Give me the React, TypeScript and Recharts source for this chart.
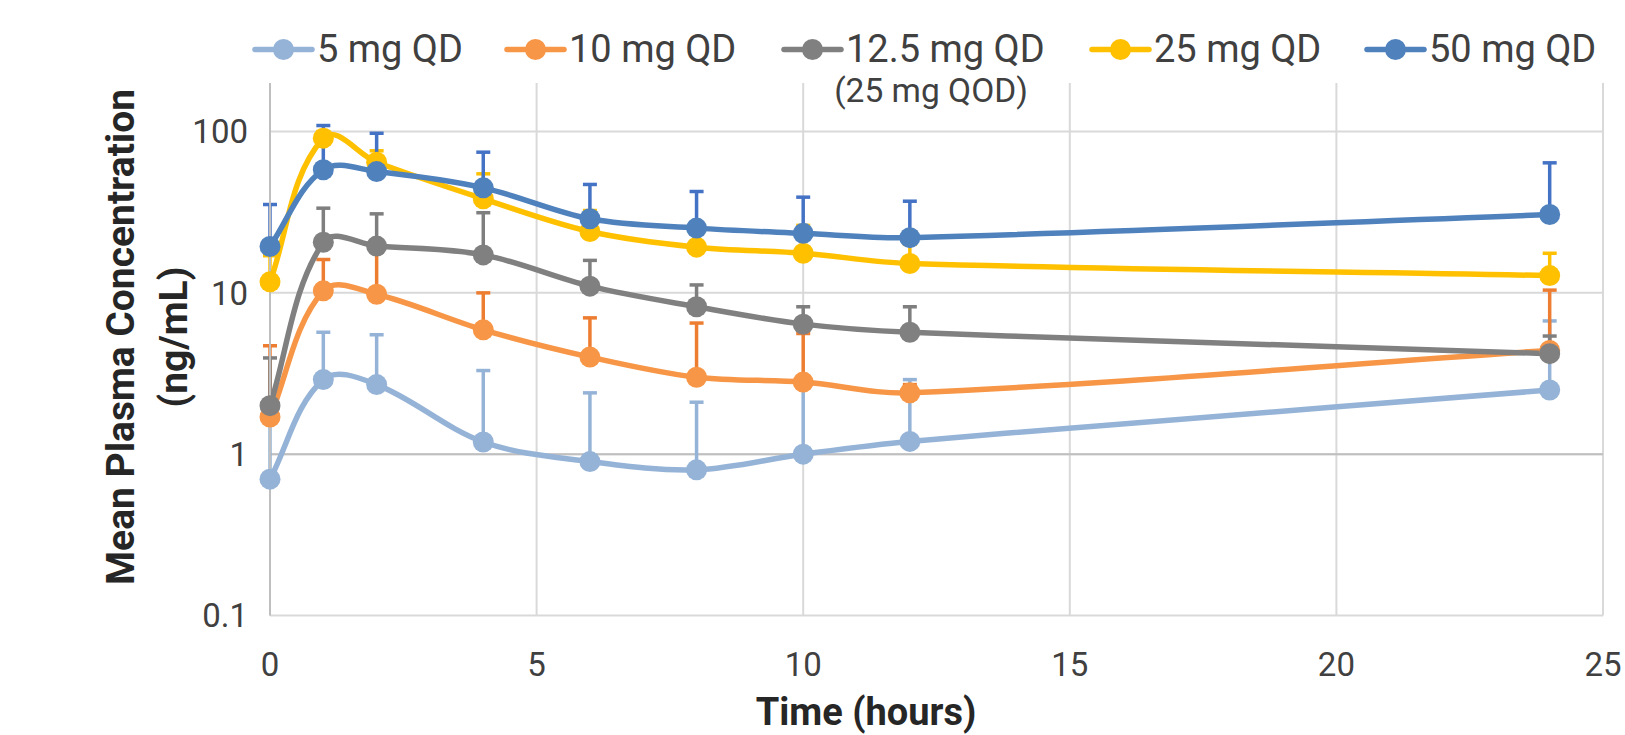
import { LineChart, Line, XAxis, YAxis, CartesianGrid, ErrorBar, ReferenceLine } from "recharts"

// sampling times (hours)
const times = [0, 1, 2, 4, 6, 8, 10, 12, 24]

const seriesNames = ['5 mg QD', '10 mg QD', '12.5 mg QD', '25 mg QD', '50 mg QD']
const lineColors = ['#95B3D7', '#F79646', '#808080', '#FFC000', '#4F81BD']
const errColors = ['#95B3D7', '#ED7D31', '#7F7F7F', '#FFC000', '#4472C4']

// mean concentration (ng/mL) and top of the SD bar
const mean5 = [0.70, 2.90, 2.70, 1.19, 0.90, 0.80, 1.00, 1.20, 2.50]
const upper5 = [1.8, 5.7, 5.5, 3.3, 2.4, 2.1, 2.7, 2.9, 6.7]
const mean10 = [1.70, 10.3, 9.8, 5.9, 4.0, 3.0, 2.8, 2.4, 4.4]
const upper10 = [4.7, 16.1, 18.5, 10.0, 7.0, 6.5, 5.6, 2.7, 10.4]
const mean12 = [2.0, 20.6, 19.5, 17.2, 11.0, 8.2, 6.4, 5.7, 4.2]
const upper12 = [3.95, 33.5, 30.9, 31.4, 15.9, 11.2, 8.2, 8.2, 5.4]
const mean25 = [11.7, 91, 64.5, 38.3, 24.0, 19.2, 17.6, 15.2, 12.8]
const upper25 = [17, 100, 76, 54.7, 32.4, 25, 26.2, 20, 17.6]
const mean50 = [19.4, 58, 56.5, 44.8, 28.8, 25.2, 23.4, 22.0, 30.6]
const upper50 = [35.3, 109, 97.6, 74.5, 47, 42.5, 39.2, 37.0, 64]

const xTicks = [0, 5, 10, 15, 20, 25]
const yTicks = [0.1, 1, 10, 100]

const means = [mean5, mean10, mean12, mean25, mean50]
const uppers = [upper5, upper10, upper12, upper25, upper50]

const data = times.map((t, i) => {
  const row: any = { t }
  means.forEach((m, k) => {
    row[`s${k}`] = m[i]
    row[`e${k}`] = [0, uppers[k][i] - m[i]]
  })
  return row
})

// Excel-like smoothing: bezier handles along the neighbour direction,
// scaled to the length of each segment so uneven spacing doesn't kink
function excelSmooth(context: any) {
  let pts: number[][] = []
  const dist = (a: number[], b: number[]) => Math.hypot(b[0] - a[0], b[1] - a[1]) || 1
  return {
    areaStart() {},
    areaEnd() {},
    lineStart() { pts = [] },
    point(x: number, y: number) { pts.push([+x, +y]) },
    lineEnd() {
      const n = pts.length
      if (!n) return
      context.moveTo(pts[0][0], pts[0][1])
      for (let i = 0; i < n - 1; i++) {
        const p0 = pts[Math.max(i - 1, 0)]
        const p1 = pts[i]
        const p2 = pts[i + 1]
        const p3 = pts[Math.min(i + 2, n - 1)]
        const seg = dist(p1, p2)
        const k1 = seg / dist(p0, p2) / 3
        const k2 = seg / dist(p1, p3) / 3
        context.bezierCurveTo(
          p1[0] + (p2[0] - p0[0]) * k1, p1[1] + (p2[1] - p0[1]) * k1,
          p2[0] - (p3[0] - p1[0]) * k2, p2[1] - (p3[1] - p1[1]) * k2,
          p2[0], p2[1]
        )
      }
    },
  }
}

const legendX = [317, 569, 846, 1154, 1429]
const font = 'Roboto, "Open Sans", sans-serif'

export default function App() {
  return (
    <div style={{ position: 'relative', width: 1625, height: 735, background: '#fff' }}>
      <style>{'body{margin:0}'}</style>
      <LineChart width={1625} height={735} data={data} margin={{ top: 83, right: 22, bottom: 0, left: 0 }}>
        <CartesianGrid stroke="#D9D9D9" strokeWidth={2} horizontalValues={yTicks} verticalValues={xTicks} />
        <XAxis
          dataKey="t" type="number" domain={[0, 25]} ticks={xTicks} height={119.5}
          axisLine={false} tickLine={false} tickSize={0} tickMargin={37}
          tick={{ fontSize: 33, fill: '#404040', fontFamily: font }}
        />
        <YAxis
          type="number" scale="log" domain={[0.1, 200]} allowDataOverflow ticks={yTicks} width={270}
          axisLine={{ stroke: '#BFBFBF', strokeWidth: 2 }} tickLine={false} tickSize={0} tickMargin={22}
          tick={{ fontSize: 33, fill: '#404040', fontFamily: font }}
        />
        <ReferenceLine y={1} stroke="#BFBFBF" strokeWidth={2} />
        {seriesNames.map((name, k) => (
          <Line
            key={name} name={name} dataKey={`s${k}`} type={excelSmooth as any}
            stroke={lineColors[k]} strokeWidth={5.5}
            dot={{ r: 10.5, fill: lineColors[k], stroke: lineColors[k], strokeWidth: 0 }}
            activeDot={false} isAnimationActive={false}
          >
            <ErrorBar dataKey={`e${k}`} direction="y" width={7} strokeWidth={3.5} stroke={errColors[k]} />
          </Line>
        ))}
      </LineChart>
      <svg width={1625} height={735} style={{ position: 'absolute', left: 0, top: 0, pointerEvents: 'none' }}>
        {seriesNames.map((name, k) => (
          <g key={name}>
            <line x1={legendX[k] - 62} x2={legendX[k] - 5} y1={49.5} y2={49.5} stroke={lineColors[k]} strokeWidth={5.5} strokeLinecap="round" />
            <circle cx={legendX[k] - 33.5} cy={49.5} r={10.5} fill={lineColors[k]} />
            <text x={legendX[k]} y={62} fontSize={38} fill="#404040" fontFamily={font}>{name}</text>
          </g>
        ))}
        <text x={931} y={102} fontSize={33.5} fill="#404040" fontFamily={font} textAnchor="middle">(25 mg QOD)</text>
        <g transform="translate(134,337) rotate(-90)">
          <text x={0} y={0} fontSize={39} fontWeight="bold" fill="#262626" fontFamily={font} textAnchor="middle">Mean Plasma Concentration</text>
        </g>
        <g transform="translate(187,337) rotate(-90)">
          <text x={0} y={0} fontSize={39} fontWeight="bold" fill="#262626" fontFamily={font} textAnchor="middle">(ng/mL)</text>
        </g>
        <text x={866} y={725} fontSize={38} fontWeight="bold" fill="#262626" fontFamily={font} textAnchor="middle">Time (hours)</text>
      </svg>
    </div>
  )
}
